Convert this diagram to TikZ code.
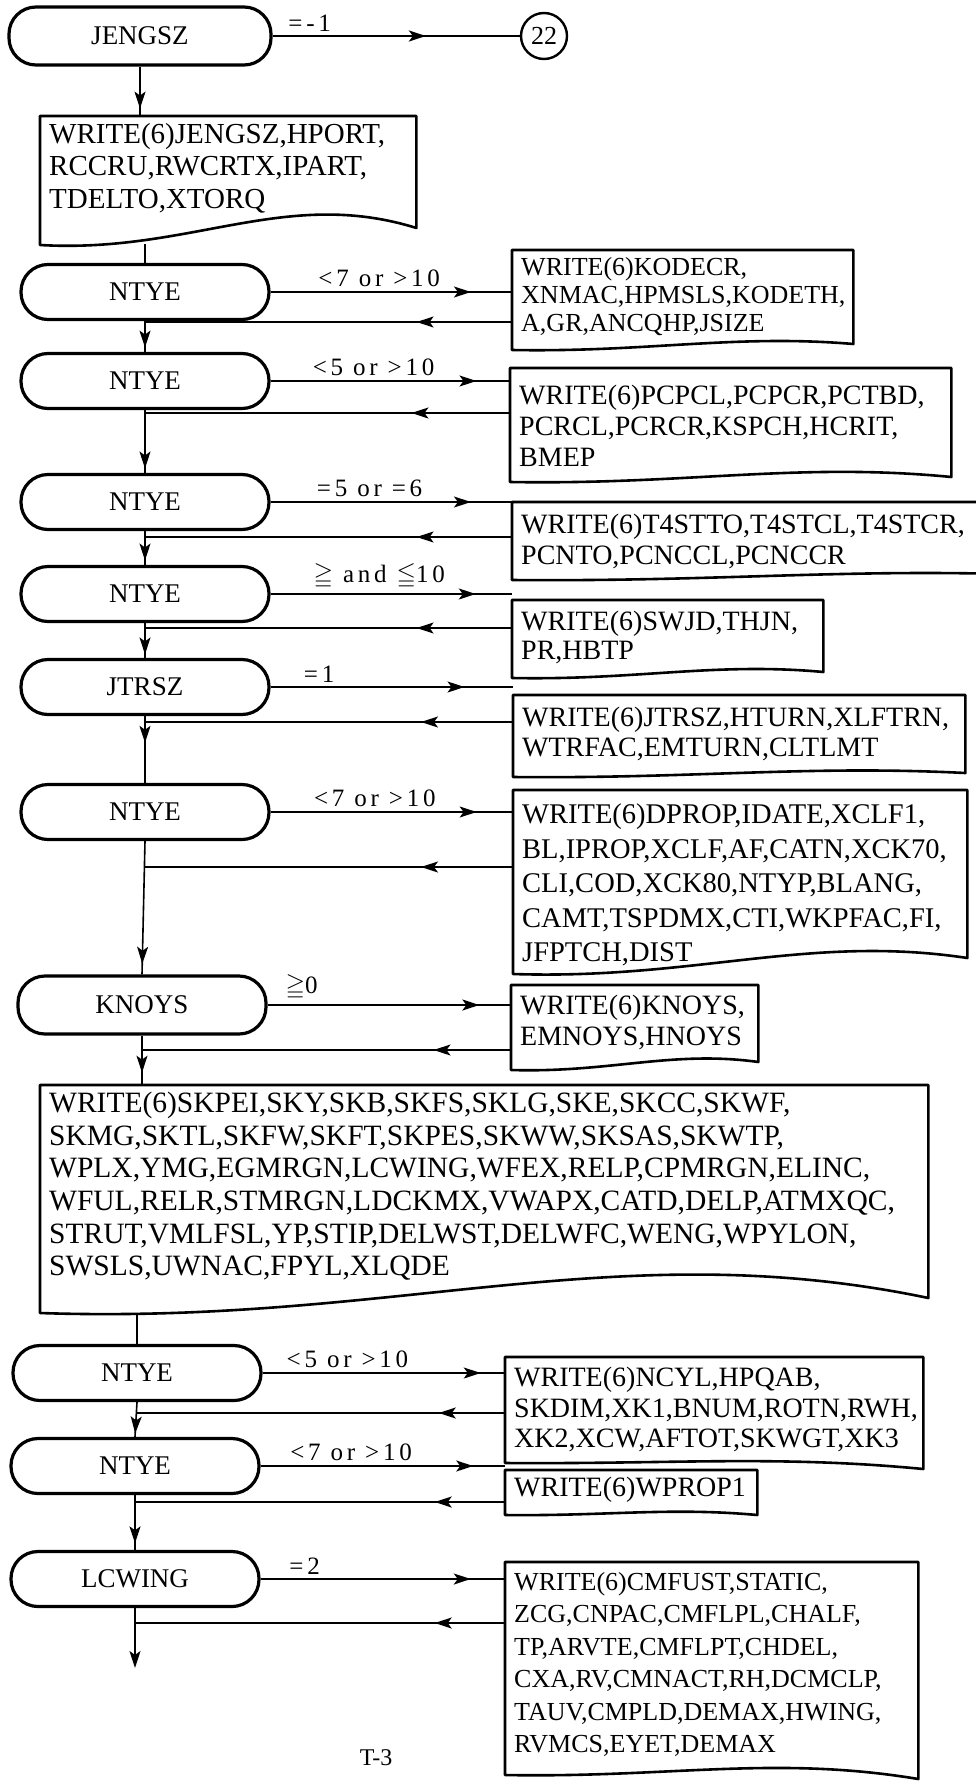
\documentclass[tikz,border=0pt]{standalone}
\usepackage{amssymb}
\usepackage{fontspec}
\setmainfont{Liberation Serif}
\newfontfamily\lblfont[LetterSpace=15]{Liberation Serif}
\usepackage{tikz}
\usetikzlibrary{arrows.meta, calc, decorations.markings, positioning}

\newcommand{\boxfont}[2]{\fontsize{#1}{#2}\selectfont}
% print symbol drawn round a node: depth, rise of the right corner, wave
\newcommand{\docframe}[4]{%
  \draw[docline] ($(#1.north west)+(0,#2)$) -- (#1.north west) -- (#1.north east)
    -- ($(#1.north east)+(0,{#2-(#3)})$)
    .. controls ($(#1.north west)!0.65!(#1.north east)+(0,{#2-2*(#4)})$)
    and ($(#1.north west)!0.4!(#1.north east)+(0,{#2+0.3*(#4)})$)
    .. ($(#1.north west)+(0,#2)$) -- cycle;}

\begin{document}
\begin{tikzpicture}[x=1pt, y=-1pt,
    term/.style={draw, rectangle, rounded corners=27pt, minimum width=248pt, minimum height=55pt, line width=3.2pt, font=\boxfont{27}{29}},
    docbox/.style={anchor=north west, align=left, inner xsep=9pt, inner ysep=7pt},
    docline/.style={line width=2.6pt, line join=round},
    conn/.style={line width=1.6pt},
    tipat/.style={postaction={decorate}, decoration={markings, mark=at position #1 with {\arrow{Stealth[length=17pt, width=11pt, inset=4pt]}}}},
    fwd/.style={conn, tipat=#1},
    lbl/.style={above, inner sep=4pt, font=\lblfont\boxfont{25}{27}}]

  \useasboundingbox (0,0) rectangle (976,1785);
  \clip (0,0) rectangle (976,1785);

  % Nodes
  \node[term, minimum width=262pt, minimum height=58pt] (jengsz) at (140,36) {JENGSZ};
  \node[circle, draw, line width=2.4pt, minimum size=46pt, inner sep=0pt, font=\boxfont{26}{28}] (c22) at (544,36) {22};
  \node[docbox, text width=358pt, font=\boxfont{29}{32.5}] (wjengsz) at (40,116)
    {WRITE(6)JENGSZ,HPORT,\\RCCRU,RWCRTX,IPART,\\TDELTO,XTORQ};

  \node[term] (ntyeA) at (145,292) {NTYE};
  \node[term] (ntyeB) at (145,381) {NTYE};
  \node[term] (ntyeC) at (145,502) {NTYE};
  \node[term] (ntyeD) at (145,594) {NTYE};
  \node[term] (jtrsz) at (145,687) {JTRSZ};
  \node[term] (ntyeE) at (145,812) {NTYE};
  \node[term, minimum height=58pt] (knoys) at (142,1005) {KNOYS};
  \node[term] (ntyeF) at (137,1373) {NTYE};
  \node[term] (ntyeG) at (135,1466) {NTYE};
  \node[term] (lcwing) at (135,1579) {LCWING};

  \node[docbox, text width=323pt, font=\boxfont{26}{28}] (wkodecr) at (512,250)
    {WRITE(6)KODECR,\\XNMAC,HPMSLS,KODETH,\\A,GR,ANCQHP,JSIZE};
  \node[docbox, text width=423pt, inner ysep=17pt, font=\boxfont{28}{31}] (wpcpcl) at (510,368)
    {WRITE(6)PCPCL,PCPCR,PCTBD,\\PCRCL,PCRCR,KSPCH,HCRIT,\\BMEP};
  \node[docbox, text width=502pt, inner ysep=12pt, font=\boxfont{28}{30.5}] (wtstto) at (512,502)
    {WRITE(6)T4STTO,T4STCL,T4STCR,\\PCNTO,PCNCCL,PCNCCR};
  \node[docbox, text width=293pt, inner ysep=11pt, font=\boxfont{28}{29}] (wswjd) at (512,600)
    {WRITE(6)SWJD,THJN,\\PR,HBTP};
  \node[docbox, text width=434pt, inner ysep=12pt, font=\boxfont{28}{30}] (wjtrsz) at (513,695)
    {WRITE(6)JTRSZ,HTURN,XLFTRN,\\WTRFAC,EMTURN,CLTLMT};
  \node[docbox, text width=436pt, inner ysep=14pt, font=\boxfont{28.5}{34.5}] (wdprop) at (513,790)
    {WRITE(6)DPROP,IDATE,XCLF1,\\BL,IPROP,XCLF,AF,CATN,XCK70,\\CLI,COD,XCK80,NTYP,BLANG,\\CAMT,TSPDMX,CTI,WKPFAC,FI,\\JFPTCH,DIST};
  \node[docbox, text width=229pt, inner ysep=10pt, font=\boxfont{28}{31}] (wknoys) at (511,985)
    {WRITE(6)KNOYS,\\EMNOYS,HNOYS};
  \node[docbox, text width=870pt, font=\boxfont{29.5}{32.6}] (wskpei) at (40,1085)
    {WRITE(6)SKPEI,SKY,SKB,SKFS,SKLG,SKE,SKCC,SKWF,\\SKMG,SKTL,SKFW,SKFT,SKPES,SKWW,SKSAS,SKWTP,\\WPLX,YMG,EGMRGN,LCWING,WFEX,RELP,CPMRGN,ELINC,\\WFUL,RELR,STMRGN,LDCKMX,VWAPX,CATD,DELP,ATMXQC,\\STRUT,VMLFSL,YP,STIP,DELWST,DELWFC,WENG,WPYLON,\\SWSLS,UWNAC,FPYL,XLQDE};
  \node[docbox, text width=400pt, inner ysep=10pt, font=\boxfont{28}{30.5}] (wncyl) at (505,1357)
    {WRITE(6)NCYL,HPQAB,\\SKDIM,XK1,BNUM,ROTN,RWH,\\XK2,XCW,AFTOT,SKWGT,XK3};
  \node[docbox, text width=234pt, font=\boxfont{28}{30}] (wwprop) at (505,1470)
    {WRITE(6)WPROP1};
  \node[docbox, text width=395pt, inner ysep=10pt, font=\boxfont{26}{32.5}] (wcmfust) at (505,1562)
    {WRITE(6)CMFUST,STATIC,\\ZCG,CNPAC,CMFLPL,CHALF,\\TP,ARVTE,CMFLPT,CHDEL,\\CXA,RV,CMNACT,RH,DCMCLP,\\TAUV,CMPLD,DEMAX,HWING,\\RVMCS,EYET,DEMAX};

  \node[font=\boxfont{24}{26}] (pagenum) at (376,1758) {T-3};

  % Print symbols
  \docframe{wjengsz}{129}{17}{29}
  \docframe{wkodecr}{100}{6}{8}
  \docframe{wpcpcl}{114}{5}{10}
  \docframe{wtstto}{78}{5}{6}
  \docframe{wswjd}{78}{6}{8}
  \docframe{wjtrsz}{82}{4}{6}
  \docframe{wdprop}{184}{16}{20}
  \docframe{wknoys}{85}{8}{10}
  \docframe{wskpei}{228}{15}{40}
  \docframe{wncyl}{106}{-6}{4}
  \docframe{wwprop}{45}{0}{4}
  \docframe{wcmfust}{213}{-4}{10}

  % Return points on the main line
  \coordinate (docout) at (145,244);
  \coordinate (r1) at (145,322);
  \coordinate (r2) at (145,413);
  \coordinate (r3) at (145,537);
  \coordinate (r4) at (145,628);
  \coordinate (r5) at (145,722);
  \coordinate (r6) at (145,867);
  \coordinate (r7) at (142,1050);
  \coordinate (bigout) at (137,1314);
  \coordinate (r8) at (137,1413);
  \coordinate (r9) at (135,1502);
  \coordinate (r10) at (135,1623);
  \coordinate (flowend) at (135,1668);

  % Arrows
  % main line
  \draw [fwd=0.85] (jengsz.south) -- (jengsz.south |- wjengsz.north);
  \draw [conn] (docout) -- (ntyeA.north);
  \draw [fwd=0.86] (ntyeA.south) -- (ntyeB.north);
  \draw [fwd=0.93] (ntyeB.south) -- (ntyeC.north);
  \draw [fwd=0.87] (ntyeC.south) -- (ntyeD.north);
  \draw [fwd=0.9] (ntyeD.south) -- (jtrsz.north);
  \draw [fwd=0.4] (jtrsz.south) -- (ntyeE.north);
  \draw [fwd=0.92] (ntyeE.south) -- (knoys.north);
  \draw [fwd=0.75] (knoys.south) -- (knoys.south |- wskpei.north);
  \draw [conn] (bigout) -- (ntyeF.north);
  \draw [fwd=0.9] (ntyeF.south) -- (ntyeG.north);
  \draw [fwd=0.88] (ntyeG.south) -- (lcwing.north);
  \draw [conn, -{Stealth[length=17pt, width=11pt, inset=4pt]}] (lcwing.south) -- (flowend);

  % branches out
  \draw [fwd=0.62] (jengsz.east) -- node[lbl, pos=0.15] {=-1} (c22.west);
  \draw [fwd=0.83] (ntyeA.east) -- node[lbl, pos=0.45] {<7 or >10} (ntyeA.east -| wkodecr.west);
  \draw [fwd=0.86] (ntyeB.east) -- node[lbl, pos=0.43] {<5 or >10} (ntyeB.east -| wpcpcl.west);
  \draw [fwd=0.83] (ntyeC.east) -- node[lbl, pos=0.41] {=5 or =6} (ntyeC.east -| wtstto.west);
  \draw [fwd=0.85] (ntyeD.east) -- node[lbl, pos=0.45] {$\geqq$ and $\leqq$10} (ntyeD.east -| wswjd.west);
  \draw [fwd=0.8] (jtrsz.east) -- node[lbl, pos=0.2] {=1} (jtrsz.east -| wjtrsz.west);
  \draw [fwd=0.85] (ntyeE.east) -- node[lbl, pos=0.43] {<7 or >10} (ntyeE.east -| wdprop.west);
  \draw [fwd=0.87] (knoys.east) -- node[lbl, pos=0.14] {$\geqq$0} (knoys.east -| wknoys.west);
  \draw [fwd=0.9] (ntyeF.east) -- node[lbl, pos=0.35] {<5 or >10} (ntyeF.east -| wncyl.west);
  \draw [fwd=0.87] (ntyeG.east) -- node[lbl, pos=0.37] {<7 or >10} (ntyeG.east -| wwprop.west);
  \draw [fwd=0.86] (lcwing.east) -- node[lbl, pos=0.18] {=2} (lcwing.east -| wcmfust.west);

  % branches back
  \draw [fwd=0.26] (r1 -| wkodecr.west) -- (r1);
  \draw [fwd=0.27] (r2 -| wpcpcl.west) -- (r2);
  \draw [fwd=0.26] (r3 -| wtstto.west) -- (r3);
  \draw [fwd=0.26] (r4 -| wswjd.west) -- (r4);
  \draw [fwd=0.25] (r5 -| wjtrsz.west) -- (r5);
  \draw [fwd=0.25] (r6 -| wdprop.west) -- (r6);
  \draw [fwd=0.21] (r7 -| wknoys.west) -- (r7);
  \draw [fwd=0.18] (r8 -| wncyl.west) -- (r8);
  \draw [fwd=0.19] (r9 -| wwprop.west) -- (r9);
  \draw [fwd=0.19] (r10 -| wcmfust.west) -- (r10);
\end{tikzpicture}
\end{document}
